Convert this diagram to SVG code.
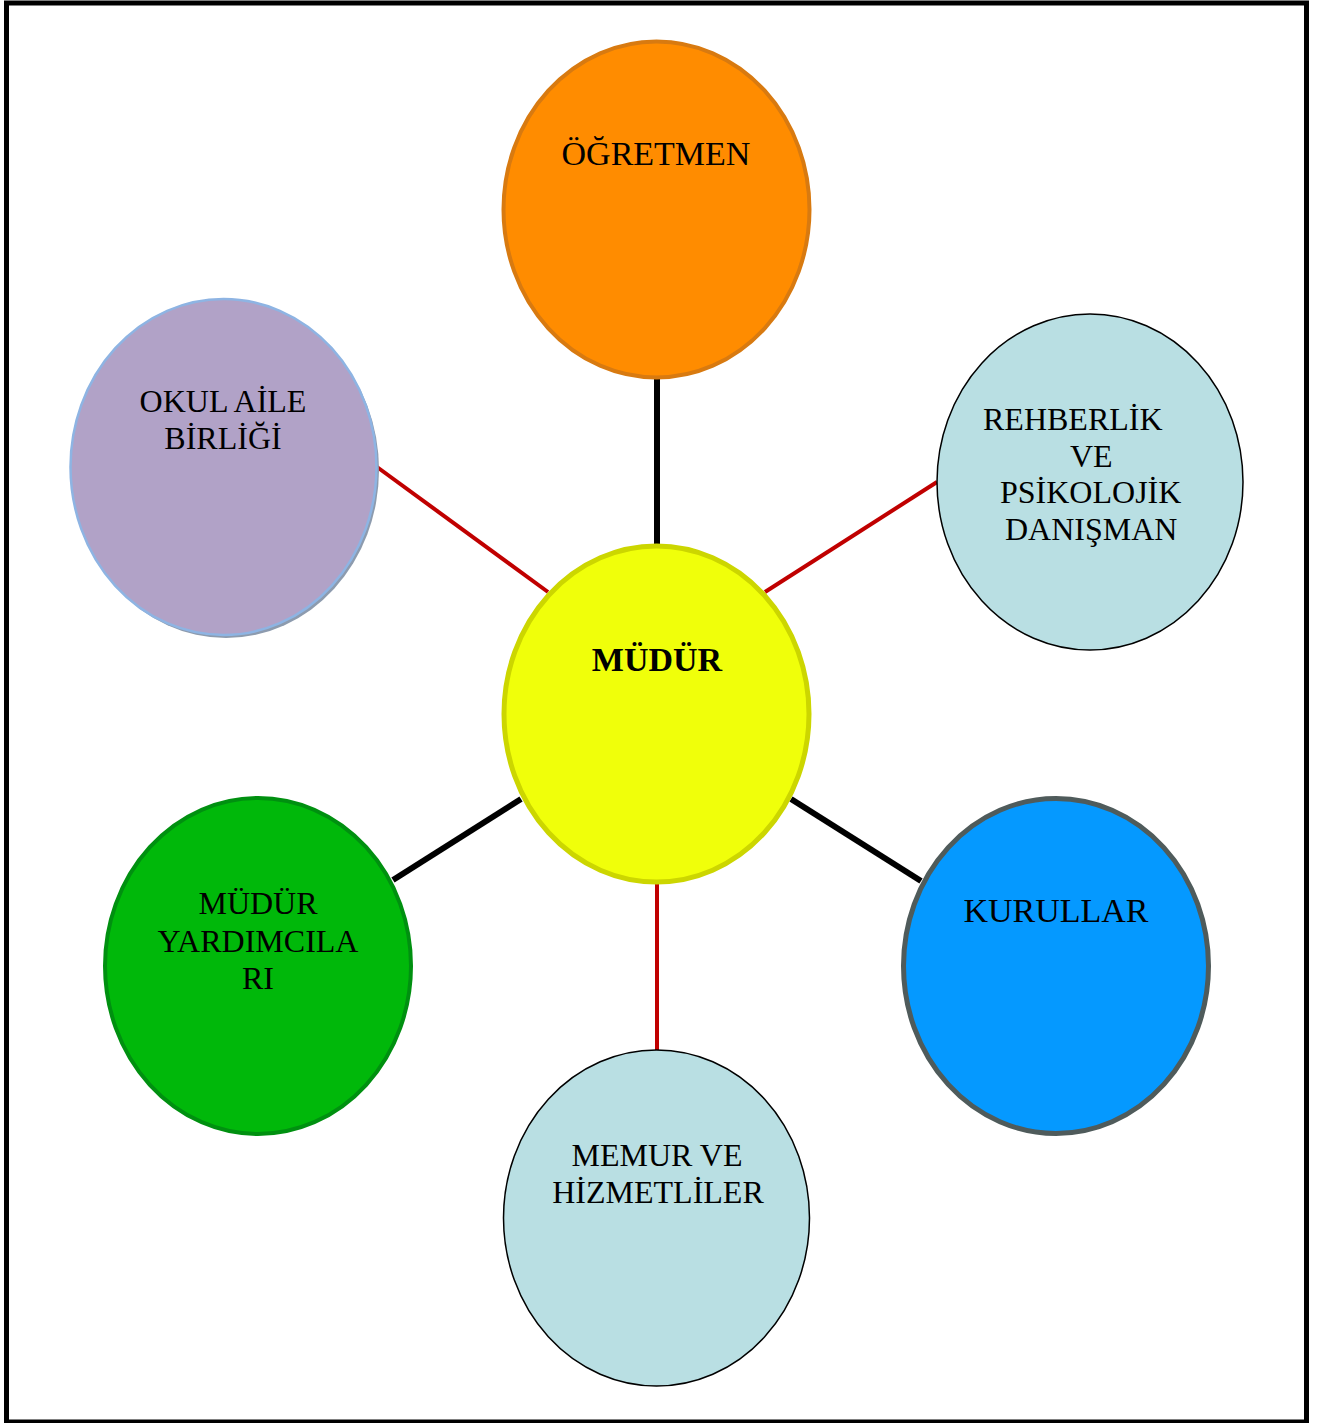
<svg xmlns="http://www.w3.org/2000/svg" width="1322" height="1423" viewBox="0 0 1322 1423">
<style>
  text { font-family: "Liberation Serif", "Times New Roman", serif; font-size: 32px; fill: #000; }
  .c { text-anchor: middle; }
  .b { font-weight: bold; }
  .L { font-size: 34px; }
  .blk { stroke: #000; stroke-width: 6; }
  .red { stroke: #C00000; stroke-width: 4; }
</style>
<rect x="0" y="0" width="1322" height="1423" fill="#fff"/>
<rect x="6.5" y="3" width="1300" height="1419" fill="none" stroke="#000" stroke-width="5"/>
<g id="connectors">
  <line class="blk" x1="657" y1="379" x2="657" y2="546"/>
  <line class="red" x1="377" y1="467" x2="548" y2="592"/>
  <line class="red" x1="937" y1="482" x2="765" y2="592"/>
  <line class="blk" x1="521" y1="799" x2="393" y2="880"/>
  <line class="blk" x1="791" y1="799" x2="921" y2="881"/>
  <line class="red" x1="657" y1="882" x2="657" y2="1050"/>
</g>
<g id="ogretmen">
  <ellipse cx="656.5" cy="209.5" rx="153" ry="168" fill="#FF8C00" stroke="#D87A10" stroke-width="4"/>
  <text class="c L" x="656" y="165">ÖĞRETMEN</text>
</g>
<g id="okul-aile-birligi">
  <ellipse cx="226" cy="470" rx="153" ry="168" fill="#8D9BAE"/>
  <ellipse cx="223.5" cy="467" rx="153" ry="168" fill="#B1A2C7" stroke="#8EB4E3" stroke-width="2.5"/>
  <text class="c" x="223" y="412">OKUL AİLE</text>
  <text class="c" x="223" y="449">BİRLİĞİ</text>
</g>
<g id="rehberlik">
  <ellipse cx="1090" cy="482" rx="153" ry="168" fill="#B9DFE3" stroke="#000" stroke-width="1.5"/>
  <text x="983" y="430">REHBERLİK</text>
  <text x="1070" y="467">VE</text>
  <text x="1000" y="503">PSİKOLOJİK</text>
  <text x="1005" y="540">DANIŞMAN</text>
</g>
<g id="mudur">
  <ellipse cx="656.5" cy="714" rx="152.5" ry="168" fill="#F0FF0A" stroke="#CCD600" stroke-width="5"/>
  <text class="c b L" x="657" y="671">MÜDÜR</text>
</g>
<g id="mudur-yardimcilari">
  <ellipse cx="258" cy="966" rx="153" ry="168" fill="#00B80A" stroke="#009010" stroke-width="4"/>
  <text class="c" x="258" y="914">MÜDÜR</text>
  <text class="c" x="258" y="952">YARDIMCILA</text>
  <text class="c" x="258" y="989">RI</text>
</g>
<g id="kurullar">
  <ellipse cx="1056" cy="966" rx="152.5" ry="167.5" fill="#0599FF" stroke="#4F5B5B" stroke-width="5"/>
  <text class="c L" x="1056" y="922">KURULLAR</text>
</g>
<g id="memur">
  <ellipse cx="656.5" cy="1218" rx="153" ry="168" fill="#B9DFE3" stroke="#000" stroke-width="1.5"/>
  <text class="c" x="657" y="1166">MEMUR VE</text>
  <text class="c" x="658" y="1203">HİZMETLİLER</text>
</g>
</svg>
